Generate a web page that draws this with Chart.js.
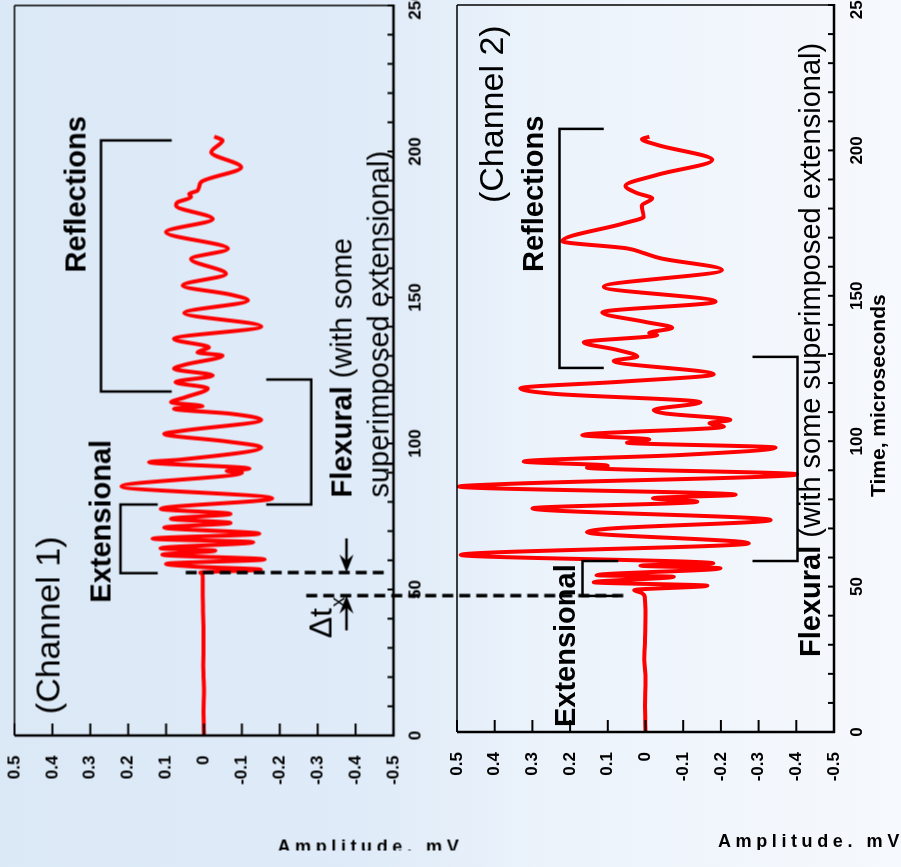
<!DOCTYPE html>
<html>
<head>
<meta charset="utf-8">
<script src="https://cdn.jsdelivr.net/npm/chart.js@4.4.1/dist/chart.umd.min.js"></script>
<style>
  html, body { margin: 0; padding: 0; width: 901px; height: 867px; overflow: hidden; }
  body { position: relative; background: linear-gradient(90deg, #dbe8f6 0%, #dfebf8 40%, #ecf3fb 62%, #f6f9fd 100%); }
  .panel { position: absolute; transform: rotate(-90deg); transform-origin: 50% 50%; }
  canvas { display: block; }
</style>
</head>
<body>
<div class="panel" id="p1"><canvas id="c1"></canvas></div>
<div class="panel" id="p2"><canvas id="c2"></canvas></div>
<script>
// ---- data (time in microseconds, amplitude in mV) ----
const ch1Time = [0, 8, 16, 24, 32, 40, 48, 55.2, 55.8, 56.8, 57.8, 58.8, 60.3, 61.9, 63.3, 64.1, 66.2,
  67.4, 69.1, 71.2, 72.8, 74.2, 75.9, 77.6, 81.2, 85.3, 90.0, 90.6, 91.4, 93.6, 94.5, 98.7, 100.7, 103.3,
  104.3, 108.1, 110.2, 111.9, 112.8, 114.1, 115.8, 118.9, 121.0, 123.3, 125.6, 127.0, 130.1, 131.2, 132.9,
  135.8, 140.1, 144.7, 149.0, 151.0, 154.1, 158.1, 163.2, 166.7, 172.4, 176.9, 181.5, 182.6, 184.4, 185.5,
  186.6, 189.5, 194.6, 199.8, 203.8, 205.1];
const ch1Amp = [0.000, 0.001, 0.000, 0.002, 0.001, 0.002, 0.003, 0.004, 0.010, -0.150, 0.020, 0.100, -0.160,
  0.110, -0.030, 0.115, -0.130, 0.136, -0.146, 0.105, -0.070, 0.087, -0.070, 0.114, -0.180, 0.218, -0.100,
  -0.060, -0.120, 0.145, 0.060, -0.151, -0.060, 0.105, 0.060, -0.151, -0.070, 0.079, 0.004, 0.087, 0.050,
  -0.010, 0.075, -0.023, 0.079, 0.050, -0.049, 0.017, -0.013, 0.079, -0.151, 0.052, -0.116, -0.070, 0.056,
  -0.058, 0.034, -0.063, 0.100, -0.023, 0.074, 0.070, 0.034, 0.039, 0.017, 0.008, -0.098, -0.019, -0.049, -0.027];

const ch2Time = [0, 9, 18, 25, 32, 40, 46.5, 47.8, 48.8, 50.3, 51.5, 53.4, 53.9, 56.3, 57.2, 58.0, 60.9,
  64.9, 68.7, 70.0, 72.9, 76.9, 79.2, 80.4, 81.6, 84.4, 85.3, 88.6, 90.9, 91.6, 93.0, 95.3, 97.8, 99.5,
  100.6, 102.1, 105.0, 106.2, 107.3, 109.6, 110.7, 113.4, 116.3, 118.2, 120.5, 123.0, 127.6, 129.1, 131.4,
  134.0, 136.5, 137.2, 139.0, 141.0, 144.3, 148.0, 153.1, 158.9, 162.9, 164.7, 166.3, 168.8, 174.9, 177.2,
  181.0, 183.5, 185.3, 187.8, 191.6, 196.7, 201.9, 203.9, 204.7];
const ch2Amp = [0.000, 0.001, 0.000, 0.003, 0.001, 0.000, 0.002, 0.010, 0.030, -0.164, 0.137, -0.075, 0.130,
  -0.199, 0.013, -0.180, 0.490, -0.274, 0.155, 0.090, -0.332, 0.300, -0.137, -0.020, -0.239, 0.495, 0.370,
  -0.402, 0.155, 0.100, 0.323, -0.100, -0.345, 0.049, -0.010, 0.168, -0.208, -0.170, -0.225, -0.049, -0.022,
  -0.146, 0.243, 0.332, 0.060, -0.181, 0.084, 0.022, 0.075, 0.164, -0.031, -0.010, -0.071, 0.000, 0.115,
  -0.186, 0.111, -0.203, -0.040, 0.005, 0.049, 0.221, 0.058, 0.005, 0.010, -0.018, 0.022, 0.053, -0.031,
  -0.177, -0.031, 0.009, -0.010];

const timeTicks = [0, 50, 100, 150, 200, 250];
const ampTicks = [0.5, 0.4, 0.3, 0.2, 0.1, 0, -0.1, -0.2, -0.3, -0.4, -0.5];

// ---- annotations, in data units (time, amplitude) ----
const ch1Notes = {
  brackets: [
    { t0: 55.6, t1: 79.1, a: 0.22, arm: 0.122 },
    { t0: 117.8, t1: 203.8, a: 0.272, arm: 0.085 },
    { t0: 79.1, t1: 121.9, a: -0.283, arm: -0.164 }
  ],
  dashes: [
    { t: 55.8, a0: 0.048, a1: -0.474 },
    { t: 47.9, a0: -0.27, a1: -1.12 }
  ],
  arrows: [
    { from: 67.5, to: 55.8, a: -0.376 },
    { from: 36.0, to: 47.9, a: -0.376 }
  ],
  labels: [
    { t: 7.3, a: 0.381, parts: [['(Channel 1)', 'normal', 34]] },
    { t: 45.5, a: 0.246, parts: [['Extensional', 'bold', 29]] },
    { t: 158.6, a: 0.312, parts: [['Reflections', 'bold', 29]] },
    { t: 81.5, a: -0.389, parts: [['Flexural', 'bold', 29], [' (with some', 'normal', 29]] },
    { t: 81.5, a: -0.487, parts: [['superimposed extensional)', 'normal', 29]] },
    { t: 33.3, a: -0.336, parts: [['\u0394t', 'normal', 32]] },
    { t: 44.0, a: -0.37, parts: [['x', 'normal', 20]] }
  ],
  // titles placed in page pixels
  titles: [
    { text: 'Amplitude. mV', px: 277, py: 852, size: 18, spacing: 4.6, vertical: false }
  ]
};

const ch2Notes = {
  brackets: [
    { t0: 46.8, t1: 58.8, a: 0.167, arm: 0.072 },
    { t0: 125.2, t1: 207.4, a: 0.228, arm: 0.111 },
    { t0: 58.8, t1: 129.0, a: -0.403, arm: -0.284 }
  ],
  dashes: [],
  arrows: [],
  labels: [
    { t: 181.9, a: 0.379, parts: [['(Channel 2)', 'normal', 34]] },
    { t: 158.2, a: 0.271, parts: [['Reflections', 'bold', 29]] },
    { t: 1.7, a: 0.188, parts: [['Extensional', 'bold', 29]] },
    { t: 25.8, a: -0.464, parts: [['Flexural', 'bold', 29], [' (with some superimposed extensional)', 'normal', 29]] }
  ],
  titles: [
    { text: 'Amplitude. mV', px: 718, py: 847, size: 18, spacing: 4.6, vertical: false },
    { text: 'Time, microseconds', px: 885, py: 497, size: 21, spacing: 0, vertical: true }
  ]
};

const FONT = '"Liberation Sans", Arial, Helvetica, sans-serif';
const PAGE_H = 867, EXTRA = 30, W = PAGE_H + EXTRA;

function place(div, canvas, x0, h) {
  canvas.width = W; canvas.height = h;
  canvas.style.width = W + 'px'; canvas.style.height = h + 'px';
  div.style.width = W + 'px'; div.style.height = h + 'px';
  var cx = x0 + h / 2, cy = -EXTRA + W / 2;
  div.style.left = (cx - W / 2) + 'px';
  div.style.top = (cy - h / 2) + 'px';
}

function seg(ctx, x1, y1, x2, y2, w) {
  ctx.lineWidth = w;
  ctx.beginPath(); ctx.moveTo(x1, y1); ctx.lineTo(x2, y2); ctx.stroke();
}

function overlay(notes, x0) {
  return {
    id: 'overlay',
    afterDraw: function (chart) {
      var ctx = chart.ctx, xs = chart.scales.x, ys = chart.scales.y, ca = chart.chartArea;
      var X = function (t) { return xs.getPixelForValue(t); };
      var Y = function (a) { return ys.getPixelForValue(a); };
      ctx.save();
      ctx.strokeStyle = '#000'; ctx.fillStyle = '#000';

      // frame
      seg(ctx, ca.left, ca.top, ca.right, ca.top, 1.5);
      seg(ctx, ca.right, ca.top, ca.right, ca.bottom, 1.5);
      seg(ctx, ca.left, ca.top, ca.left, ca.bottom + 1, 2.5);
      seg(ctx, ca.left - 1, ca.bottom, ca.right + 1, ca.bottom, 2.5);

      // inward ticks: every 10 us on time axis, every 0.1 mV on amplitude axis
      for (var k = 0; k <= 25; k++) seg(ctx, X(k * 10), ca.bottom, X(k * 10), ca.bottom - 6, 2);
      ampTicks.forEach(function (a) { seg(ctx, ca.left, Y(a), ca.left + 12, Y(a), 2); });

      // brackets
      ctx.lineJoin = 'miter';
      notes.brackets.forEach(function (b) {
        ctx.lineWidth = 2.5;
        ctx.beginPath();
        ctx.moveTo(X(b.t1), Y(b.arm)); ctx.lineTo(X(b.t1), Y(b.a));
        ctx.lineTo(X(b.t0), Y(b.a)); ctx.lineTo(X(b.t0), Y(b.arm));
        ctx.stroke();
      });

      // dashed markers
      ctx.setLineDash([11, 6]);
      notes.dashes.forEach(function (d) { seg(ctx, X(d.t), Y(d.a0), X(d.t), Y(d.a1), 3.5); });
      ctx.setLineDash([]);

      // arrows
      notes.arrows.forEach(function (r) {
        var xa = X(r.from), xb = X(r.to), y = Y(r.a), dir = xb > xa ? 1 : -1;
        seg(ctx, xa, y, xb - dir * 8, y, 2.5);
        ctx.beginPath();
        ctx.moveTo(xb, y);
        ctx.lineTo(xb - dir * 18, y - 7);
        ctx.lineTo(xb - dir * 12, y);
        ctx.lineTo(xb - dir * 18, y + 7);
        ctx.closePath(); ctx.fill();
      });

      // labels
      ctx.textAlign = 'left'; ctx.textBaseline = 'alphabetic';
      notes.labels.forEach(function (l) {
        var x = X(l.t), y = Y(l.a);
        l.parts.forEach(function (p) {
          ctx.font = p[1] + ' ' + p[2] + 'px ' + FONT;
          ctx.fillText(p[0], x, y);
          x += ctx.measureText(p[0]).width;
        });
      });

      // axis titles (page pixel placement)
      notes.titles.forEach(function (tt) {
        var u = PAGE_H - tt.py, v = tt.px - x0;
        ctx.font = 'bold ' + tt.size + 'px ' + FONT;
        if (tt.vertical) {
          ctx.fillText(tt.text, u, v);
        } else {
          ctx.save();
          ctx.beginPath(); ctx.rect(PAGE_H - 850, 0, W, chart.height); ctx.clip();
          ctx.translate(u, v); ctx.rotate(Math.PI / 2);
          var pos = 0;
          for (var i = 0; i < tt.text.length; i++) {
            var ch = tt.text[i];
            ctx.fillText(ch, pos, 0);
            pos += ctx.measureText(ch).width + tt.spacing;
          }
          ctx.restore();
        }
      });
      ctx.restore();
    }
  };
}

function makeChart(canvas, time, amp, notes, cfg) {
  var pts = time.map(function (t, i) { return { x: t, y: amp[i] }; });
  return new Chart(canvas, {
    type: 'line',
    data: {
      datasets: [{
        data: pts,
        borderColor: '#ff0000',
        borderWidth: 4,
        pointRadius: 0,
        cubicInterpolationMode: 'monotone',
        fill: false
      }]
    },
    options: {
      responsive: false,
      animation: false,
      devicePixelRatio: 1,
      events: [],
      layout: { padding: { top: cfg.top, right: PAGE_H - 862 + EXTRA, left: 0, bottom: 0 } },
      plugins: { legend: { display: false }, tooltip: { enabled: false } },
      scales: {
        x: {
          type: 'linear', position: 'bottom', min: 0, max: 250,
          grid: { display: false, drawTicks: false }, border: { display: false },
          afterBuildTicks: function (s) { s.ticks = timeTicks.map(function (v) { return { value: v }; }); },
          afterFit: function (s) { s.height = cfg.xh; },
          ticks: { padding: cfg.xpad, color: '#000', autoSkip: false, maxRotation: 0,
                   font: { family: FONT, size: 17, weight: 'bold' } }
        },
        y: {
          type: 'linear', position: 'left', min: -0.5, max: 0.5,
          // tick marks are drawn by the overlay; tickLength only offsets the labels
          grid: { display: false, drawTicks: true, tickLength: 20 }, border: { display: false },
          afterBuildTicks: function (s) { s.ticks = ampTicks.map(function (v) { return { value: v }; }); },
          afterFit: function (s) { s.width = cfg.yw; },
          ticks: { padding: 0, color: '#000', autoSkip: false,
                   font: { family: FONT, size: 17, weight: 'bold', lineHeight: 0.8 },
                   callback: function (v) { return v === 0 ? '0' : String(v); } }
        }
      }
    },
    plugins: [overlay(notes, cfg.x0)]
  });
}

var c1 = document.getElementById('c1'), c2 = document.getElementById('c2');
place(document.getElementById('p1'), c1, 0, 640);
place(document.getElementById('p2'), c2, 450, 451);

makeChart(c1, ch1Time, ch1Amp, ch1Notes, { x0: 0, top: 14, xh: 640 - 393, yw: PAGE_H - 735, xpad: 12 });
makeChart(c2, ch2Time, ch2Amp, ch2Notes, { x0: 450, top: 7, xh: 451 - 384, yw: PAGE_H - 732, xpad: 13 });
</script>
</body>
</html>
